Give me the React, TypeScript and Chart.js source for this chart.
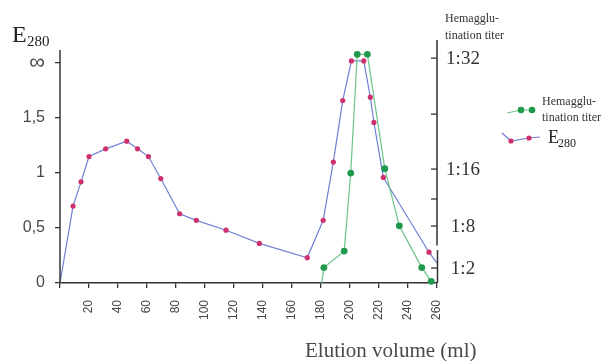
import React, { useEffect, useRef } from 'react';
import { Chart, registerables } from 'chart.js';

Chart.register(...registerables);

// Elution profile: optical density E280
const volumeE280 = [0, 9, 14.5, 20, 31.5, 46, 53.5, 61, 69.5, 82.5, 94, 114.5, 137.5, 170.5, 181.5, 188.5, 195, 201, 209.5, 214, 216.5, 223, 254.5, 260];
const e280 = [0, 0.70, 0.92, 1.15, 1.22, 1.29, 1.22, 1.15, 0.95, 0.63, 0.57, 0.48, 0.36, 0.23, 0.57, 1.10, 1.66, 2.02, 2.02, 1.69, 1.46, 0.96, 0.28, 0.18];

// Hemagglutination titer (positions on the right titer axis)
const volumeTiter = [180.5, 182, 196, 200.5, 205, 212, 224, 234, 249.5, 256];
const titerLevel = [0, 0.14, 0.29, 1.0, 2.08, 2.08, 1.04, 0.52, 0.14, 0.015];

const xMin = 0;
const xMax = 260;
const xTickStep = 20;
const yMax = 2.21;
const yTickValues = [0, 0.5, 1, 1.5, 2];
const yTickLabels = ['0', '0,5', '1', '1,5', '∞'];
const titerTickValues = [0.136, 0.518, 0.764, 1.036, 1.536, 2.045];
const titerTickLabels = ['1:2', '1:8', '', '1:16', '', '1:32'];

const SERIF = '"Liberation Serif", "Times New Roman", serif';
const SANS = '"Liberation Sans", Arial, sans-serif';

const BLUE = '#6f80d4';
const PINK = '#cf2f6c';
const GREEN_LINE = '#6cc489';
const GREEN = '#1f9a4c';

const decorPlugin = {
  id: 'decor',
  afterDraw(chart: any) {
    const ctx = chart.ctx;
    const area = chart.chartArea;
    const y = chart.scales.y;
    const y2 = chart.scales.y2;
    ctx.save();
    ctx.strokeStyle = '#333';
    ctx.lineWidth = 1.5;

    // left axis line
    ctx.beginPath();
    ctx.moveTo(area.left, y.getPixelForValue(2.12));
    ctx.lineTo(area.left, area.bottom);
    ctx.stroke();

    // right axis line with break
    const r = area.right;
    ctx.beginPath();
    ctx.moveTo(r, area.top);
    ctx.lineTo(r, y2.getPixelForValue(0.34));
    ctx.moveTo(r + 0.5, y2.getPixelForValue(0.30));
    ctx.lineTo(r + 0.5, area.bottom);
    ctx.stroke();

    // right ticks (inward) and labels
    ctx.lineWidth = 1.3;
    ctx.fillStyle = '#333';
    ctx.font = '19px ' + SERIF;
    ctx.textAlign = 'center';
    ctx.textBaseline = 'middle';
    titerTickValues.forEach((v, i) => {
      const py = y2.getPixelForValue(v);
      ctx.beginPath();
      ctx.moveTo(r - 6, py);
      ctx.lineTo(r, py);
      ctx.stroke();
      if (titerTickLabels[i]) ctx.fillText(titerTickLabels[i], r + 26, py + 1);
    });

    // right axis title
    ctx.textAlign = 'left';
    ctx.textBaseline = 'alphabetic';
    ctx.font = '12px ' + SERIF;
    ctx.fillText('Hemagglu-', 445, 22);
    ctx.fillText('tination titer', 445, 39);

    // left axis title E280
    ctx.fillStyle = '#222';
    ctx.font = '24px ' + SERIF;
    ctx.fillText('E', 12, 42);
    ctx.font = '15px ' + SERIF;
    ctx.fillText('280', 27, 46);

    // x axis title
    ctx.fillStyle = '#4a4a4a';
    ctx.font = '21px ' + SERIF;
    ctx.fillText('Elution volume (ml)', 305, 357);

    // legend: hemagglutination
    ctx.strokeStyle = GREEN_LINE;
    ctx.lineWidth = 1.2;
    ctx.beginPath();
    ctx.moveTo(507, 113);
    ctx.lineTo(521, 110);
    ctx.lineTo(532, 110);
    ctx.stroke();
    ctx.fillStyle = GREEN;
    [[521, 110], [532, 110]].forEach(([px, py]) => {
      ctx.beginPath();
      ctx.arc(px, py, 3.3, 0, Math.PI * 2);
      ctx.fill();
    });
    ctx.fillStyle = '#333';
    ctx.font = '12px ' + SERIF;
    ctx.fillText('Hemagglu-', 542, 105);
    ctx.fillText('tination titer', 542, 121);

    // legend: E280
    ctx.strokeStyle = BLUE;
    ctx.beginPath();
    ctx.moveTo(502, 133);
    ctx.lineTo(511, 141);
    ctx.lineTo(529, 138);
    ctx.lineTo(540, 137);
    ctx.stroke();
    ctx.fillStyle = PINK;
    [[511, 141], [529, 138]].forEach(([px, py]) => {
      ctx.beginPath();
      ctx.arc(px, py, 2.6, 0, Math.PI * 2);
      ctx.fill();
    });
    ctx.fillStyle = '#222';
    ctx.font = '18px ' + SERIF;
    ctx.fillText('E', 548, 143);
    ctx.font = '12px ' + SERIF;
    ctx.fillText('280', 558, 147);

    ctx.restore();
  },
};

export default function App() {
  const canvasRef = useRef<HTMLCanvasElement | null>(null);

  useEffect(() => {
    const canvas = canvasRef.current;
    if (!canvas) return;
    const chart = new Chart(canvas, {
      type: 'line',
      data: {
        datasets: [
          {
            label: 'Hemagglutination titer',
            data: volumeTiter.map((v, i) => ({ x: v, y: titerLevel[i] })),
            yAxisID: 'y2',
            borderColor: GREEN_LINE,
            borderWidth: 1.2,
            backgroundColor: GREEN,
            pointBackgroundColor: GREEN,
            pointBorderWidth: 0,
            pointRadius: (c: any) => (c.dataIndex === 0 ? 0 : 3.4),
            tension: 0,
            clip: false as any,
          },
          {
            label: 'E280',
            data: volumeE280.map((v, i) => ({ x: v, y: e280[i] })),
            yAxisID: 'y',
            borderColor: BLUE,
            borderWidth: 1.2,
            backgroundColor: PINK,
            pointBackgroundColor: PINK,
            pointBorderWidth: 0,
            pointRadius: (c: any) =>
              c.dataIndex === 0 || c.dataIndex === volumeE280.length - 1 ? 0 : 2.6,
            tension: 0,
            clip: false as any,
          },
        ],
      },
      options: {
        responsive: false,
        devicePixelRatio: 1,
        animation: false,
        layout: { padding: { top: 40, right: 170, left: 0, bottom: 0 } },
        plugins: {
          legend: { display: false },
          tooltip: { enabled: false },
        },
        scales: {
          x: {
            type: 'linear',
            min: xMin,
            max: xMax,
            ticks: {
              stepSize: xTickStep,
              maxRotation: 90,
              minRotation: 90,
              padding: 12,
              color: '#444',
              font: { family: SANS, size: 12 },
              callback: (v: any) => (v === 0 ? '' : String(v)),
            },
            grid: {
              drawOnChartArea: false,
              drawTicks: true,
              tickLength: 5,
              color: '#333',
              lineWidth: 1.3,
            },
            border: { display: true, color: '#333', width: 1.5 },
            afterFit: (s: any) => {
              s.height = 78;
            },
          },
          y: {
            type: 'linear',
            min: 0,
            max: yMax,
            afterBuildTicks: (s: any) => {
              s.ticks = yTickValues.map((v) => ({ value: v }));
            },
            ticks: {
              padding: 10,
              color: '#4a4a4a',
              font: (c: any) => ({ family: SANS, size: c.index === yTickValues.length - 1 ? 22 : 16 }),
              callback: (v: any) => {
                const i = yTickValues.indexOf(Number(v));
                return i >= 0 ? yTickLabels[i] : '';
              },
            },
            grid: {
              drawOnChartArea: false,
              drawTicks: true,
              tickLength: 5,
              color: '#333',
              lineWidth: 1.3,
            },
            border: { display: false },
            afterFit: (s: any) => {
              s.width = 60;
            },
          },
          y2: {
            type: 'linear',
            display: false,
            min: 0,
            max: yMax,
          },
        },
      },
      plugins: [decorPlugin],
    } as any);
    return () => chart.destroy();
  }, []);

  return (
    <div style={{ position: 'absolute', left: 0, top: 0, width: 607, height: 361, background: '#fff' }}>
      <canvas ref={canvasRef} width={607} height={361} style={{ width: 607, height: 361, display: 'block' }} />
    </div>
  );
}
